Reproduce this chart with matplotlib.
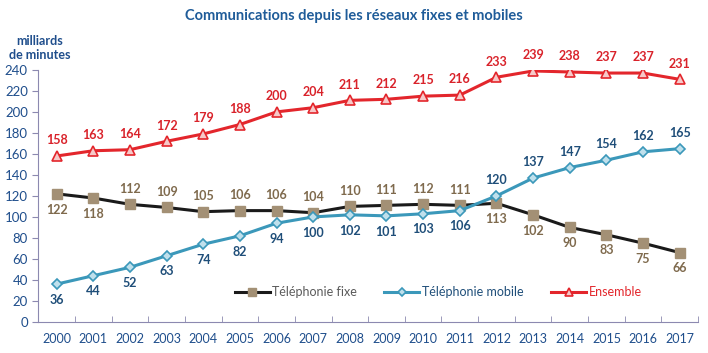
import matplotlib
matplotlib.use("Agg")
import matplotlib.pyplot as plt

plt.rcParams["font.family"] = ["Lato", "DejaVu Sans"]

years = list(range(2000, 2018))
fixe = [122, 118, 112, 109, 105, 106, 106, 104, 110, 111, 112, 111, 113, 102, 90, 83, 75, 66]
mobile = [36, 44, 52, 63, 74, 82, 94, 100, 102, 101, 103, 106, 120, 137, 147, 154, 162, 165]
ensemble = [158, 163, 164, 172, 179, 188, 200, 204, 211, 212, 215, 216, 233, 239, 238, 237, 237, 231]
# position des étiquettes : 1 au-dessus, -1 en dessous
fixe_pos = [-1, -1, 1, 1, 1, 1, 1, 1, 1, 1, 1, 1, -1, -1, -1, -1, -1, -1]
mobile_pos = [-1] * 12 + [1] * 6

blue_txt = "#1F4E8C"
x = list(range(len(years)))

fig = plt.figure(figsize=(7.08, 3.53), dpi=100)
ax = fig.add_axes([0.054, 0.088, 0.932, 0.714])

ax.plot(x, fixe, color="#1a1a1a", lw=2.2, marker="s", ms=7.5,
        mfc="#A39075", mec="#A39075", label="Téléphonie fixe", zorder=3)
ax.plot(x, mobile, color="#3B98BA", lw=2.2, marker="D", ms=5.5,
        mfc="#BFE0EC", mec="#3B98BA", mew=1.2, label="Téléphonie mobile", zorder=3)
ax.plot(x, ensemble, color="#E3262C", lw=2.2, marker="^", ms=7,
        mfc="#F6C9C9", mec="#E3262C", mew=1.2, label="Ensemble", zorder=3)

for i in x:
    ax.annotate(str(ensemble[i]), (i, ensemble[i]), xytext=(0, 7), textcoords="offset points",
                ha="center", va="bottom", color="#D9222A", fontsize=9, fontweight="bold")
    off = 7 if fixe_pos[i] > 0 else -7
    ax.annotate(str(fixe[i]), (i, fixe[i]), xytext=(0, off), textcoords="offset points",
                ha="center", va="bottom" if off > 0 else "top", color="#7F6A4D",
                fontsize=9, fontweight="bold")
    off = 7 if mobile_pos[i] > 0 else -7
    ax.annotate(str(mobile[i]), (i, mobile[i]), xytext=(0, off), textcoords="offset points",
                ha="center", va="bottom" if off > 0 else "top", color="#1F4E79",
                fontsize=9, fontweight="bold")

ax.set_xlim(-0.5, len(years) - 0.5)
ax.set_ylim(0, 240)
ax.set_yticks(range(0, 241, 20))
ax.set_xticks(x)
ax.set_xticklabels([str(y) for y in years])
ax.set_xticks([i - 0.5 for i in range(len(years) + 1)], minor=True)
ax.tick_params(axis="x", which="major", length=0, pad=8, labelsize=9, labelcolor=blue_txt)
ax.tick_params(axis="x", which="minor", length=4, color="#8C89B0", direction="in")
ax.tick_params(axis="y", length=4, color="#8C89B0", labelsize=9.5, labelcolor=blue_txt)
for s in ["top", "right"]:
    ax.spines[s].set_visible(False)
ax.spines["left"].set_color("#8C89B0")
ax.spines["bottom"].set_color("#8C89B0")

ax.legend(loc="center", bbox_to_anchor=(0.606, 0.119), ncol=3, frameon=False,
          fontsize=9, handlelength=2.8, columnspacing=2.2, handletextpad=0.2,
          markerscale=0.8, labelcolor=["#5a5a5a", "#1F4E79", "#E3262C"])

fig.text(0.5, 0.955, "Communications depuis les réseaux fixes et mobiles", ha="center",
         va="center", fontsize=10.5, fontweight="bold", color="#1F5C99")
fig.text(0.056, 0.826, "milliards\nde minutes", ha="center", va="bottom", fontsize=9,
         fontweight="bold", color="#1F4E8C", linespacing=1.25)

fig.savefig("out.png", dpi=100)
